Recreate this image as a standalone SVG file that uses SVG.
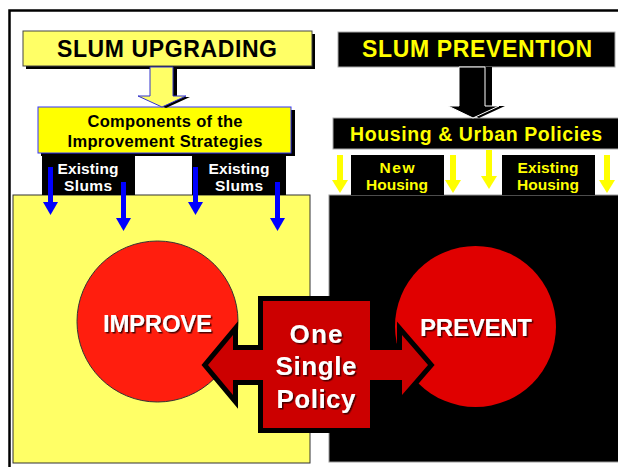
<svg xmlns="http://www.w3.org/2000/svg" width="618" height="467" viewBox="0 0 618 467">
<style>
text{font-family:"Liberation Sans",Arial,sans-serif;font-weight:bold;text-anchor:middle}
.blk{fill:#000}
.wt{fill:#fff}
.yt{fill:#FFFF00}
.blue{fill:#0000FF}
.ya{fill:#FFFF00}
</style>
<defs>
<filter id="ts" x="-10%" y="-20%" width="130%" height="150%">
<feDropShadow dx="1.5" dy="1.5" stdDeviation="0.4" flood-color="#300" flood-opacity="0.85"/>
</filter>
</defs>
<rect width="618" height="467" fill="#fff"/>
<!-- frame -->
<path d="M9.5 467V10.5H618" fill="none" stroke="#000" stroke-width="2.5"/>

<g id="panel-left">
<rect x="13" y="195" width="297" height="268" fill="#FFFF66" stroke="#333" stroke-width="1"/>
</g>
<g id="panel-right">
<rect x="329" y="195" width="292" height="267" fill="#000" stroke="#999" stroke-width="1"/>
</g>

<g id="slum-upgrading">
<rect x="26" y="34" width="289" height="35" class="blk"/>
<rect x="23" y="31" width="289" height="35" fill="#FFFF66" stroke="#444" stroke-width="1"/>
<text x="167" y="57" font-size="23" textLength="220" fill="#000">SLUM UPGRADING</text>
</g>

<g id="slum-prevention">
<rect x="338" y="32" width="277" height="35" fill="#000" stroke="#aaa" stroke-width="1"/>
<text x="477" y="57" font-size="23" textLength="230" class="yt">SLUM PREVENTION</text>
</g>

<g id="components">
<rect x="41" y="110" width="254" height="46" class="blk"/>
<rect x="38" y="107" width="253" height="46" fill="#FFFF00" stroke="#3333FF" stroke-width="1"/>
<text x="165" y="127" font-size="16.5" textLength="155" fill="#000">Components of the</text>
<text x="165" y="147" font-size="16.5" textLength="195" fill="#000">Improvement Strategies</text>
</g>

<g id="housing-urban">
<rect x="333" y="118" width="290" height="31" fill="#000" stroke="#aaa" stroke-width="1"/>
<text x="476" y="141" font-size="19.5" textLength="252" class="yt">Housing &amp; Urban Policies</text>
</g>

<g id="existing-slums-1">
<rect x="42" y="154" width="93" height="41" class="blk"/>
<text x="88" y="174" font-size="15.5" textLength="61" class="wt">Existing</text>
<text x="88" y="191" font-size="15.5" textLength="48" class="wt">Slums</text>
</g>
<g id="existing-slums-2">
<rect x="192" y="154" width="94" height="41" class="blk"/>
<text x="239" y="174" font-size="15.5" textLength="61" class="wt">Existing</text>
<text x="239" y="191" font-size="15.5" textLength="48" class="wt">Slums</text>
</g>
<g id="new-housing">
<rect x="351" y="155" width="93" height="40" class="blk"/>
<text x="397" y="173" font-size="15.5" textLength="35" class="yt">New</text>
<text x="397" y="190" font-size="15.5" textLength="62" class="yt">Housing</text>
</g>
<g id="existing-housing">
<rect x="502" y="155" width="93" height="40" class="blk"/>
<text x="548" y="173" font-size="15.5" textLength="61" class="yt">Existing</text>
<text x="548" y="190" font-size="15.5" textLength="62" class="yt">Housing</text>
</g>

<g id="improve">
<circle cx="157.5" cy="321.5" r="80.5" fill="#FF1E0E" stroke="#333" stroke-width="1"/>
<text x="157.5" y="332" font-size="24" textLength="109" class="wt" filter="url(#ts)">IMPROVE</text>
</g>
<g id="prevent">
<circle cx="475.5" cy="326.5" r="80.5" fill="#E00000"/>
<text x="476" y="336" font-size="24" textLength="112" class="wt" filter="url(#ts)">PREVENT</text>
</g>

<g id="connectors">
<!-- yellow big arrow -->
<polygon points="154,68 177,68 177,97 190,97 166,108 142,97 154,97" fill="#000"/>
<polygon points="150,67 173,67 173,96 186,96 162,107 138,96 150,96" fill="#FFFF66" stroke="#3333CC" stroke-width="1"/>
<!-- black big arrow -->
<polygon points="465,67 492,67 492,106 505,106 479,118 454,106 465,106" fill="#000"/>
<polygon points="459,67 485,67 485,106 499,106 473,118 448,106 459,106" fill="#000" stroke="#fff" stroke-width="1"/>
<!-- blue arrows -->
<g class="blue">
<rect x="48" y="167" width="5" height="36"/><polygon points="43,202 58,202 50.5,215"/>
<rect x="121" y="182" width="5" height="37"/><polygon points="116,218 131,218 123.5,231"/>
<rect x="193" y="167" width="5" height="36"/><polygon points="188,202 203,202 195.5,215"/>
<rect x="275" y="182" width="5" height="37"/><polygon points="270,218 285,218 277.5,231"/>
</g>
<!-- yellow small arrows -->
<g class="ya">
<rect x="337" y="155" width="6" height="26"/><polygon points="332,180 348,180 340,193"/>
<rect x="450" y="155" width="6" height="26"/><polygon points="445,180 461,180 453,193"/>
<rect x="486" y="150" width="6" height="27"/><polygon points="481,176 497,176 489,189"/>
<rect x="604" y="155" width="6" height="26"/><polygon points="599,180 615,180 607,193"/>
</g>
</g>

<g id="one-single-policy">
<polygon points="263,301 370,301 370,350 402,350 402,335 428,365 402,395 402,380 370,380 370,428 263,428 263,380 233,380 233,395 208,365 233,335 233,350 263,350" fill="#CC0000" stroke="#000" stroke-width="10" stroke-linejoin="miter" paint-order="stroke"/>
<text x="316" y="343" font-size="26" textLength="53" class="wt" filter="url(#ts)">One</text>
<text x="316" y="375" font-size="26" textLength="81" class="wt" filter="url(#ts)">Single</text>
<text x="316" y="408" font-size="26" textLength="79" class="wt" filter="url(#ts)">Policy</text>
</g>
</svg>
